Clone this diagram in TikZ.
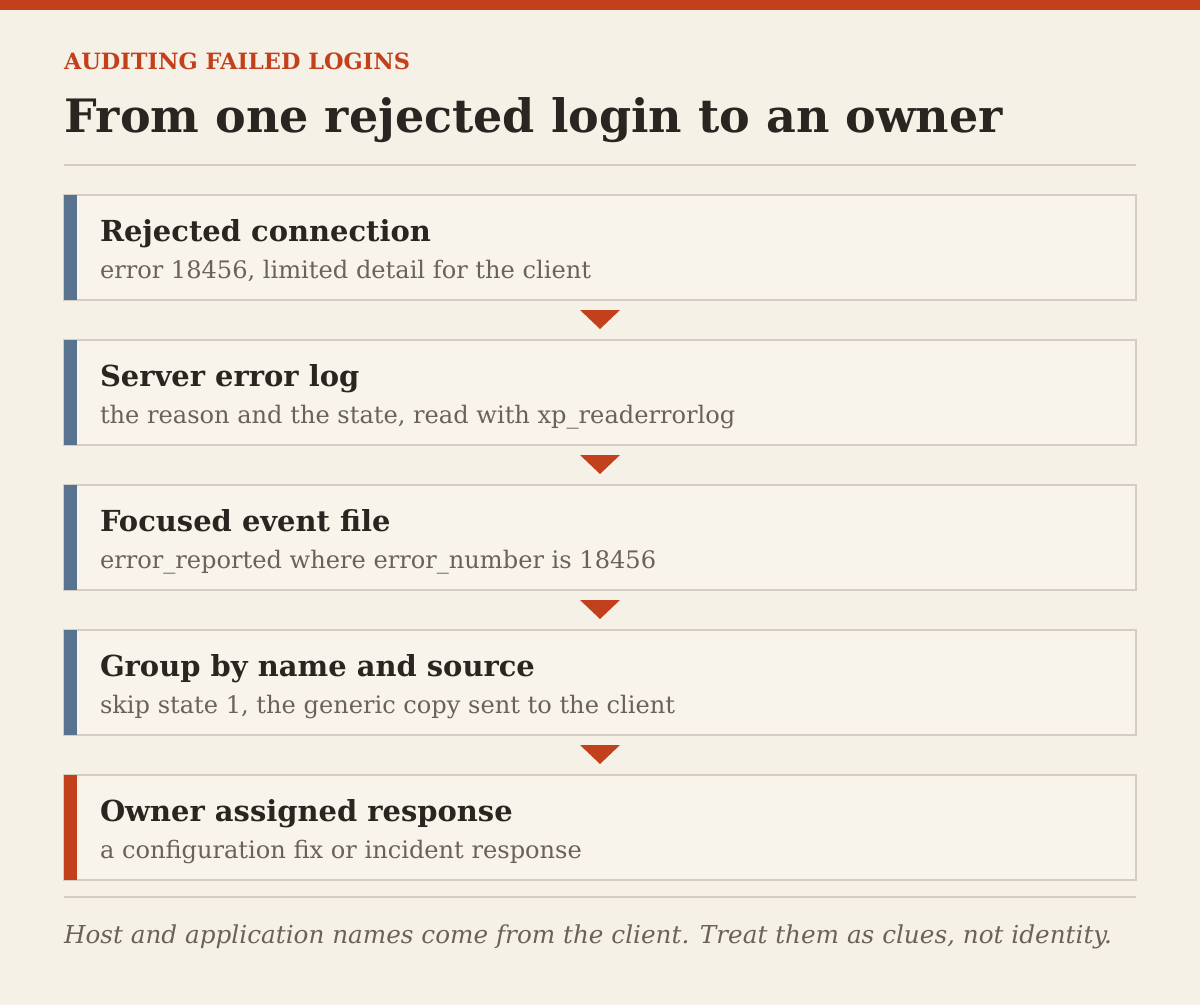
\documentclass[tikz,border=0pt]{standalone}
\usepackage{fontspec}
\setmainfont{DejaVu Serif}
\usetikzlibrary{calc}
\definecolor{bgc}{HTML}{F6F1E6}
\definecolor{boxfill}{HTML}{F8F4EB}
\definecolor{accent}{HTML}{C3401D}
\definecolor{ink}{HTML}{2A2520}
\definecolor{muted}{HTML}{6A6258}
\definecolor{rulec}{HTML}{D5CDC1}
\definecolor{barblue}{HTML}{587390}
\newlength\fitw
\newcommand\fitsize[3]{\settowidth\fitw{\fontsize{10pt}{12pt}\selectfont #3}\pgfmathsetmacro#1{10*#2/\fitw}}
\begin{document}
\fitsize\kickS{346}{\bfseries AUDITING FAILED LOGINS}%
\fitsize\titleS{939}{\bfseries From one rejected login to an owner}%
\fitsize\headS{331}{\bfseries Rejected connection}%
\fitsize\subS{491}{error 18456, limited detail for the client}%
\fitsize\footS{1048}{\itshape Host and application names come from the client. Treat them as clues, not identity.}%
\begin{tikzpicture}[x=1pt,y=-1pt,
  txt/.style={anchor=base west, inner sep=0pt, outer sep=0pt},
  kick/.style={txt, text=accent, font=\fontsize{\kickS}{\kickS}\selectfont\bfseries},
  ttl/.style={txt, text=ink, font=\fontsize{\titleS}{\titleS}\selectfont\bfseries},
  head/.style={txt, text=ink, font=\fontsize{\headS}{\headS}\selectfont\bfseries},
  subt/.style={txt, text=muted, font=\fontsize{\subS}{\subS}\selectfont},
  foot/.style={txt, text=muted, font=\fontsize{\footS}{\footS}\selectfont\itshape},
  stepbox/.style={draw=rulec, line width=2pt, fill=boxfill, minimum width=1072pt, minimum height=105pt, inner sep=0pt, outer sep=0pt},
  rule/.style={draw=rulec, line width=2pt},
  pointer/.style={fill=accent}
]
% background and top band
\fill[bgc] (0,0) rectangle (1200,1005);
\fill[accent] (0,0) rectangle (1200,10);
% header
\node[kick] (kicker) at (64,69) {AUDITING FAILED LOGINS};
\node[ttl] (title) at (64,132) {From one rejected login to an owner};
\coordinate (r1a) at (64,165);
\coordinate (r1b) at (1136,165);
\draw[rule] (r1a) -- (r1b);
% steps
\foreach \i/\h/\s/\c in {
  1/{Rejected connection}/{error 18456, limited detail for the client}/barblue,
  2/{Server error log}/{the reason and the state, read with xp\_readerrorlog}/barblue,
  3/{Focused event file}/{error\_reported where error\_number is 18456}/barblue,
  4/{Group by name and source}/{skip state 1, the generic copy sent to the client}/barblue,
  5/{Owner assigned response}/{a configuration fix or incident response}/accent}{
  \pgfmathsetmacro\cy{195+145*(\i-1)+52.5}
  \node[stepbox] (b\i) at (600,\cy) {};
  \fill[\c] (b\i.north west) rectangle ([xshift=13pt]b\i.south west);
  \node[head] (h\i) at ($(b\i.north west)+(36,46)$) {\h};
  \node[subt] (s\i) at ($(b\i.north west)+(36,83)$) {\s};
}
% pointers between steps
\foreach \i in {1,2,3,4}{
  \fill[pointer] ($(b\i.south)+(-20,10)$) -- ($(b\i.south)+(20,10)$) -- ($(b\i.south)+(0,29)$) -- cycle;
}
% footer
\coordinate (r2a) at (64,897);
\coordinate (r2b) at (1136,897);
\draw[rule] (r2a) -- (r2b);
\node[foot] (note) at (64,943) {Host and application names come from the client. Treat them as clues, not identity.};
\end{tikzpicture}
\end{document}
